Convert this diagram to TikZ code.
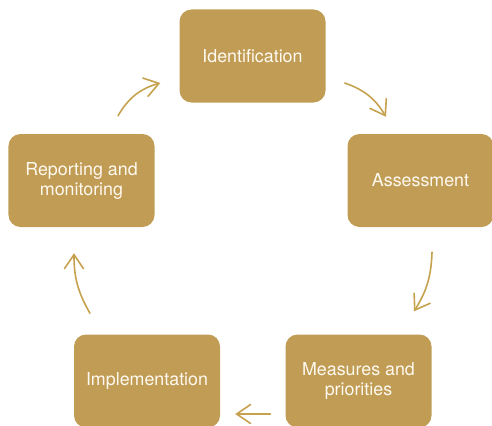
\documentclass[tikz,border=0pt]{standalone}
\usepackage{fontspec}
\setmainfont{TeX Gyre Heros}
\usepackage{xcolor}
\usepackage{tikz}
\usetikzlibrary{arrows.meta}

\definecolor{gold}{HTML}{C09C55}
\definecolor{goldline}{HTML}{C6A24F}
\definecolor{cream}{HTML}{FFF9F0}

\tikzset{
  stagebox/.style={fill=gold, rounded corners=12bp, minimum width=146bp, minimum height=93bp,
    inner sep=0pt, text=cream, align=center, font=\fontsize{17.9}{20}\selectfont},
  cyclearrow/.style={goldline, line width=1.6bp, line cap=round,
    -{Straight Barb[length=14bp, width=19bp, line cap=round]}}
}

\begin{document}
\begin{tikzpicture}[x=1bp, y=1bp]
\useasboundingbox (0,0) rectangle (492,425);
\clip (0,0) rectangle (492,425);

\node [stagebox] (ident) at (252.5,369) {Identification};
\node [stagebox] (assess) at (420.5,244.5) {Assessment};
\node [stagebox] (meas) at (358.5,44) {Measures and\\priorities};
\node [stagebox] (impl) at (147,44) {Implementation};
\node [stagebox] (repo) at (81.5,244.5) {Reporting and\\monitoring};

% arrows round the cycle
\draw [cyclearrow] ([shift={(36.5,18)}]repo.north) to[bend left=22] ([shift={(-19,-27)}]ident.west);
\draw [cyclearrow] ([shift={(19,-27)}]ident.east) to[bend left=20] ([shift={(-34.5,17)}]assess.north);
\draw [cyclearrow] ([shift={(11.5,-25)}]assess.south) to[bend left=15] ([shift={(55.5,23)}]meas.north);
\draw [cyclearrow] ([shift={(-15,-33)}]meas.west) -- ([shift={(15,-33)}]impl.east);
\draw [cyclearrow] ([shift={(-57,21)}]impl.north) to[bend left=15] ([shift={(-7.5,-26)}]repo.south);

\end{tikzpicture}
\end{document}
